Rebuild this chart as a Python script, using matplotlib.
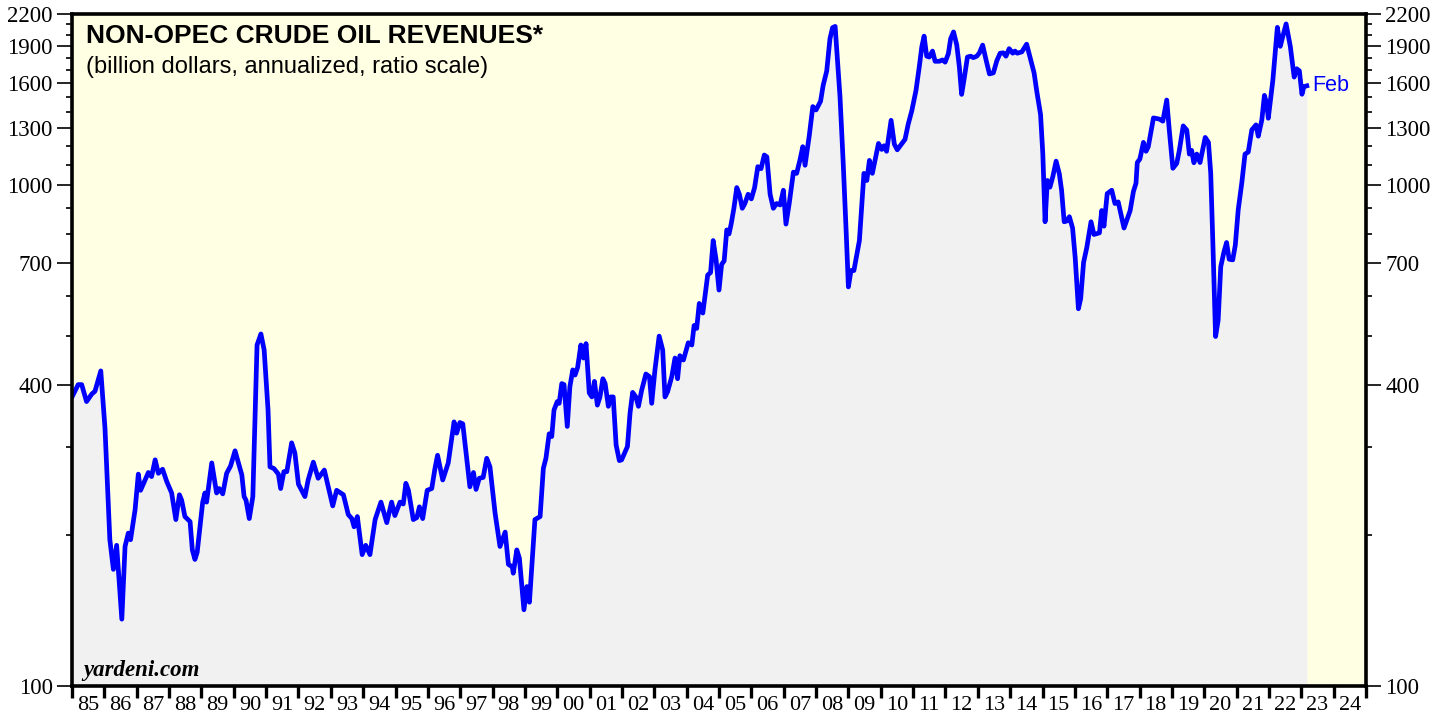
import numpy as np
import matplotlib
matplotlib.use("Agg")
import matplotlib.pyplot as plt
from matplotlib.ticker import FixedLocator, NullFormatter

# data (decimal year, billion $)
dates = [
    1985.02, 1985.19, 1985.30, 1985.45, 1985.61, 1985.71, 1985.89, 1986.02, 1986.17, 1986.28,
    1986.38, 1986.54, 1986.64, 1986.74, 1986.81, 1986.95, 1987.05, 1987.12, 1987.26, 1987.36,
    1987.46, 1987.57, 1987.67, 1987.80, 1987.93, 1988.08, 1988.21, 1988.32, 1988.39, 1988.49,
    1988.65, 1988.72, 1988.80, 1988.87, 1989.04, 1989.11, 1989.16, 1989.32, 1989.47, 1989.55,
    1989.66, 1989.78, 1989.90, 1990.04, 1990.25, 1990.32, 1990.38, 1990.48, 1990.59, 1990.72,
    1990.84, 1990.94, 1991.06, 1991.12, 1991.24, 1991.38, 1991.45, 1991.55, 1991.64, 1991.79,
    1991.89, 1992.00, 1992.20, 1992.30, 1992.46, 1992.61, 1992.80, 1993.06, 1993.18, 1993.39,
    1993.54, 1993.65, 1993.72, 1993.82, 1993.97, 1994.08, 1994.21, 1994.37, 1994.55, 1994.73,
    1994.88, 1994.98, 1995.14, 1995.24, 1995.32, 1995.40, 1995.55, 1995.66, 1995.74, 1995.84,
    1995.98, 1996.12, 1996.22, 1996.30, 1996.46, 1996.63, 1996.81, 1996.89, 1996.99, 1997.08,
    1997.30, 1997.41, 1997.49, 1997.59, 1997.71, 1997.82, 1997.92, 1998.08, 1998.23, 1998.39,
    1998.49, 1998.61, 1998.64, 1998.75, 1998.83, 1998.97, 1999.06, 1999.14, 1999.31, 1999.47,
    1999.57, 1999.65, 1999.75, 1999.83, 1999.90, 2000.00, 2000.06, 2000.14, 2000.21, 2000.31,
    2000.39, 2000.48, 2000.55, 2000.63, 2000.73, 2000.81, 2000.89, 2000.99, 2001.07, 2001.15,
    2001.24, 2001.32, 2001.41, 2001.48, 2001.58, 2001.65, 2001.73, 2001.82, 2001.92, 2001.99,
    2002.17, 2002.25, 2002.33, 2002.43, 2002.51, 2002.61, 2002.74, 2002.85, 2002.92, 2003.02,
    2003.15, 2003.26, 2003.33, 2003.41, 2003.54, 2003.64, 2003.72, 2003.79, 2003.90, 2004.05,
    2004.16, 2004.23, 2004.31, 2004.39, 2004.50, 2004.57, 2004.65, 2004.74, 2004.82, 2004.91,
    2005.00, 2005.08, 2005.16, 2005.24, 2005.31, 2005.38, 2005.46, 2005.55, 2005.63, 2005.72,
    2005.80, 2005.90, 2006.00, 2006.10, 2006.20, 2006.30, 2006.40, 2006.48, 2006.58, 2006.68,
    2006.78, 2006.89, 2006.99, 2007.07, 2007.17, 2007.30, 2007.40, 2007.50, 2007.59, 2007.66,
    2007.79, 2007.90, 2008.00, 2008.14, 2008.22, 2008.33, 2008.43, 2008.51, 2008.59, 2008.74,
    2008.84, 2008.93, 2009.00, 2009.08, 2009.17, 2009.34, 2009.48, 2009.57, 2009.65, 2009.74,
    2009.93, 2010.03, 2010.10, 2010.18, 2010.32, 2010.42, 2010.51, 2010.75, 2010.85, 2010.96,
    2011.09, 2011.19, 2011.27, 2011.34, 2011.42, 2011.50, 2011.60, 2011.68, 2011.81, 2011.91,
    2011.99, 2012.09, 2012.16, 2012.25, 2012.35, 2012.43, 2012.50, 2012.57, 2012.68, 2012.78,
    2012.86, 2012.97, 2013.05, 2013.15, 2013.26, 2013.36, 2013.48, 2013.59, 2013.69, 2013.79,
    2013.87, 2013.97, 2014.08, 2014.15, 2014.22, 2014.36, 2014.51, 2014.64, 2014.74, 2014.82,
    2014.94, 2015.01, 2015.08, 2015.15, 2015.23, 2015.32, 2015.42, 2015.52, 2015.59, 2015.67,
    2015.75, 2015.83, 2015.93, 2016.01, 2016.11, 2016.18, 2016.27, 2016.37, 2016.50, 2016.59,
    2016.76, 2016.83, 2016.90, 2017.00, 2017.14, 2017.24, 2017.34, 2017.52, 2017.71, 2017.81,
    2017.89, 2017.93, 2018.01, 2018.12, 2018.20, 2018.27, 2018.43, 2018.61, 2018.72, 2018.84,
    2018.92, 2019.03, 2019.15, 2019.23, 2019.35, 2019.46, 2019.54, 2019.61, 2019.68, 2019.77,
    2019.87, 2020.03, 2020.13, 2020.20, 2020.27, 2020.35, 2020.43, 2020.51, 2020.61, 2020.69,
    2020.77, 2020.88, 2020.96, 2021.05, 2021.16, 2021.26, 2021.36, 2021.47, 2021.60, 2021.67,
    2021.78, 2021.86, 2021.93, 2021.98, 2022.12, 2022.26, 2022.35, 2022.43, 2022.53, 2022.66,
    2022.78, 2022.86, 2022.94, 2023.02, 2023.08, 2023.17,
]
revenues = [
    380, 400, 400, 370, 383, 388, 426, 327, 196, 171,
    191, 136, 190, 202, 196, 225, 265, 246, 258, 267,
    262, 283, 266, 271, 256, 243, 215, 241, 235, 218,
    213, 187, 179, 185, 233, 243, 233, 279, 243, 248,
    242, 266, 275, 295, 264, 239, 235, 216, 239, 480,
    505, 469, 356, 274, 272, 265, 248, 268, 268, 306,
    292, 253, 239, 258, 280, 260, 270, 229, 246, 241,
    220, 216, 208, 218, 183, 191, 183, 215, 233, 212,
    233, 219, 233, 231, 254, 246, 215, 217, 228, 216,
    246, 248, 272, 289, 258, 279, 337, 320, 336, 334,
    250, 267, 247, 260, 261, 285, 274, 221, 190, 203,
    175, 173, 168, 187, 180, 142, 158, 147, 215, 218,
    272, 285, 319, 315, 356, 370, 367, 402, 400, 330,
    396, 428, 418, 433, 480, 452, 483, 385, 378, 406,
    364, 378, 411, 402, 362, 378, 378, 303, 282, 283,
    301, 351, 386, 378, 362, 390, 420, 415, 367, 428,
    500, 469, 378, 387, 415, 452, 411, 457, 448, 485,
    480, 525, 518, 581, 556, 604, 662, 670, 776, 710,
    618, 695, 707, 815, 800, 840, 900, 990, 960, 900,
    920, 960, 940, 990, 1090, 1080, 1150, 1140, 960, 900,
    920, 914, 978, 837, 920, 1063, 1057, 1122, 1195, 1097,
    1257, 1437, 1415, 1473, 1585, 1693, 1963, 2066, 2078, 1505,
    1107, 811, 627, 676, 676, 776, 1057, 1023, 1122, 1057,
    1213, 1180, 1200, 1170, 1349, 1209, 1178, 1236, 1326, 1410,
    1549, 1724, 1893, 1987, 1812, 1805, 1855, 1770, 1770, 1781,
    1763, 1833, 1963, 2026, 1907, 1724, 1520, 1620, 1805, 1812,
    1800, 1812, 1840, 1907, 1776, 1670, 1678, 1776, 1837, 1840,
    1812, 1876, 1837, 1855, 1837, 1848, 1915, 1776, 1678, 1546,
    1385, 1155, 846, 1023, 992, 1042, 1118, 1055, 978, 846,
    849, 866, 822, 718, 567, 594, 702, 752, 846, 798,
    804, 891, 829, 963, 978, 920, 927, 822, 891, 972,
    1010, 1111, 1129, 1219, 1170, 1195, 1364, 1357, 1344, 1481,
    1288, 1082, 1107, 1175, 1315, 1290, 1155, 1175, 1110, 1155,
    1111, 1247, 1219, 1058, 754, 499, 538, 688, 737, 769,
    712, 710, 760, 894, 1011, 1155, 1166, 1291, 1321, 1254,
    1352, 1513, 1458, 1362, 1621, 2069, 1896, 1987, 2102, 1896,
    1646, 1710, 1694, 1521, 1575, 1581,
]

major_y = [100, 400, 700, 1000, 1300, 1600, 1900, 2200]
minor_y = [200, 300, 500, 600, 800, 900, 1100, 1200, 1400, 1500, 1700, 1800, 2000, 2100]
years = list(range(1985, 2025))
year_labels = ["%02d" % (y % 100) for y in years]

serif = "Liberation Serif"
sans = "Liberation Sans"

fig = plt.figure(figsize=(14.44, 7.17), dpi=100)
ax = fig.add_axes([72 / 1444, 1 - 686 / 717, (1366 - 72) / 1444, (686 - 14) / 717])
ax.set_facecolor("#ffffe3")

ax.fill_between(dates, revenues, 100, color="#f1f1f1", lw=0, zorder=1)
ax.plot(dates, revenues, color="#0000ff", lw=3.4, zorder=3, solid_joinstyle="round")
ax.text(dates[-1] + 0.18, revenues[-1], "Feb", color="#0000ff", fontsize=15.5,
        family=sans, va="center", ha="left")

ax.set_yscale("log")
ax.set_ylim(100, 2200)
ax.set_xlim(1985, 2025)

# y axis ticks on both sides
ax.yaxis.set_major_locator(FixedLocator(major_y))
ax.yaxis.set_minor_locator(FixedLocator(minor_y))
ax.yaxis.set_major_formatter(matplotlib.ticker.FixedFormatter([str(v) for v in major_y]))
ax.yaxis.set_minor_formatter(NullFormatter())
ax.tick_params(axis="y", which="major", direction="out", length=11, width=1.2,
               labelsize=16.5, left=True, right=True, labelleft=True, labelright=True, pad=3)
ax.tick_params(axis="y", which="minor", direction="out", length=4.5, width=1.2,
               left=True, right=True)

# x axis: ticks at year edges, labels centred in each year
ax.set_xticks(years + [2025])
ax.set_xticklabels([])
ax.set_xticks([y + 0.5 for y in years], minor=True)
ax.set_xticklabels(year_labels, minor=True)
ax.tick_params(axis="x", which="major", direction="out", length=8.5, width=2.4, bottom=True)
ax.tick_params(axis="x", which="minor", length=0, labelsize=16, pad=7)

for lbl in ax.get_xticklabels(minor=True) + ax.get_yticklabels():
    lbl.set_family(serif)

for s in ax.spines.values():
    s.set_linewidth(2.6)
    s.set_zorder(5)

ax.text(0.011, 0.985, "NON-OPEC CRUDE OIL REVENUES*", transform=ax.transAxes,
        fontsize=19, fontweight="bold", family=sans, va="top", ha="left")
ax.text(0.011, 0.937, "(billion dollars, annualized, ratio scale)", transform=ax.transAxes,
        fontsize=17, family=sans, va="top", ha="left")
ax.text(0.009, 0.008, "yardeni.com", transform=ax.transAxes, fontsize=16.5,
        fontweight="bold", fontstyle="italic", family=serif, va="bottom", ha="left")

fig.savefig("out.png", dpi=100)
